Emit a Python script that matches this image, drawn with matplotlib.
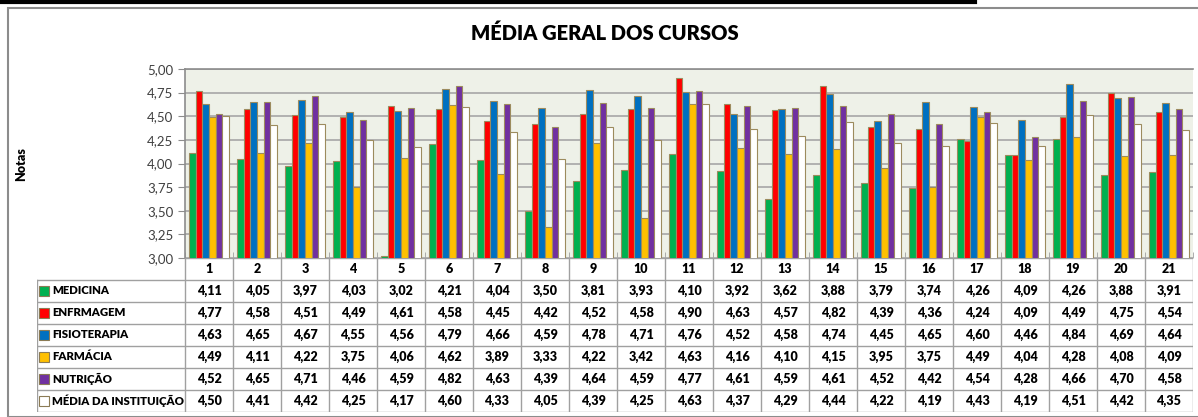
import numpy as np
import matplotlib
matplotlib.use("Agg")
from matplotlib import pyplot as plt
from matplotlib.lines import Line2D
from matplotlib.patches import Rectangle

plt.rcParams['font.family'] = ['Lato', 'DejaVu Sans']

cursos = ["MEDICINA", "ENFRMAGEM", "FISIOTERAPIA", "FARMÁCIA", "NUTRIÇÃO", "MÉDIA DA INSTITUIÇÃO"]
questoes = [str(i) for i in range(1, 22)]
medicina = [4.11, 4.05, 3.97, 4.03, 3.02, 4.21, 4.04, 3.50, 3.81, 3.93, 4.10, 3.92, 3.62, 3.88, 3.79, 3.74, 4.26, 4.09, 4.26, 3.88, 3.91]
enfermagem = [4.77, 4.58, 4.51, 4.49, 4.61, 4.58, 4.45, 4.42, 4.52, 4.58, 4.90, 4.63, 4.57, 4.82, 4.39, 4.36, 4.24, 4.09, 4.49, 4.75, 4.54]
fisioterapia = [4.63, 4.65, 4.67, 4.55, 4.56, 4.79, 4.66, 4.59, 4.78, 4.71, 4.76, 4.52, 4.58, 4.74, 4.45, 4.65, 4.60, 4.46, 4.84, 4.69, 4.64]
farmacia = [4.49, 4.11, 4.22, 3.75, 4.06, 4.62, 3.89, 3.33, 4.22, 3.42, 4.63, 4.16, 4.10, 4.15, 3.95, 3.75, 4.49, 4.04, 4.28, 4.08, 4.09]
nutricao = [4.52, 4.65, 4.71, 4.46, 4.59, 4.82, 4.63, 4.39, 4.64, 4.59, 4.77, 4.61, 4.59, 4.61, 4.52, 4.42, 4.54, 4.28, 4.66, 4.70, 4.58]
media_inst = [4.50, 4.41, 4.42, 4.25, 4.17, 4.60, 4.33, 4.05, 4.39, 4.25, 4.63, 4.37, 4.29, 4.44, 4.22, 4.19, 4.43, 4.19, 4.51, 4.42, 4.35]
series = [medicina, enfermagem, fisioterapia, farmacia, nutricao, media_inst]
cores = ["#00B050", "#FF0000", "#0070C0", "#FFC000", "#7030A0", "#FFFFFF"]

W, H = 1198, 417
fig = plt.figure(figsize=(W / 100, H / 100), dpi=100)

def box(l, t, r, b):
    return [l / W, 1 - b / H, (r - l) / W, (b - t) / H]

# chart frame + black line on top
fig.patches.append(Rectangle((8 / W, 0), (W - 6) / W, 1 - 8 / H, transform=fig.transFigure,
                             fill=False, edgecolor="#8C8C8C", linewidth=1.5))
fig.lines.append(Line2D([0, 975 / W], [1 - 1.5 / H, 1 - 1.5 / H], transform=fig.transFigure,
                        color="black", linewidth=3))

fig.text(605 / W, 1 - 33 / H, "MÉDIA GERAL DOS CURSOS", ha="center", va="center",
         fontsize=14.5, fontweight="heavy")
fig.text(21 / W, 1 - 164 / H, "Notas", rotation=90, ha="center", va="center",
         fontsize=9, fontweight="heavy")

# bars
ax = fig.add_axes(box(185, 69, 1193, 258))
ax.set_facecolor("#EEF1E8")
x = np.arange(len(questoes))
w = 0.14
for i, (vals, c) in enumerate(zip(series, cores)):
    ax.bar(x + (i - 2.5) * w, vals, width=w, color=c, edgecolor="#9C8B5E", linewidth=0.8, zorder=3)
ax.set_xlim(-0.5, len(questoes) - 0.5)
ax.set_ylim(3, 5)
ax.set_yticks(np.arange(3, 5.01, 0.25))
ax.set_yticklabels([f"{v:.2f}".replace(".", ",") for v in np.arange(3, 5.01, 0.25)], fontsize=9.5)
ax.yaxis.grid(True, color="#A6A6A6", linewidth=1.2, zorder=0)
ax.set_xticks([])
ax.set_xticks(np.arange(-0.5, len(questoes)), minor=True)
ax.tick_params(axis="x", which="minor", direction="in", length=4, color="#A0A0A0")
ax.tick_params(axis="y", length=5, color="#8C8C8C", colors="#404040")
for s in ["right", "bottom"]:
    ax.spines[s].set_visible(False)
for s in ["top", "left"]:
    ax.spines[s].set_color("#8C8C8C")
    ax.spines[s].set_linewidth(1.2)

# data table
tab = fig.add_axes(box(37, 258, 1193, 412))
lab_w = 148 / 48.0
x0 = -0.5 - lab_w
nrows = len(cursos) + 1
tab.set_xlim(x0, len(questoes) - 0.5)
tab.set_ylim(nrows, 0)
tab.axis("off")
lc, lw = "#A0A0A0", 1.0
tab.plot([-0.5, len(questoes) - 0.5], [0, 0], color=lc, lw=lw)
for r in range(1, nrows + 1):
    tab.plot([x0, len(questoes) - 0.5], [r, r], color=lc, lw=lw)
tab.plot([x0, x0], [1, nrows], color=lc, lw=lw)
for k in range(len(questoes) + 1):
    tab.plot([k - 0.5, k - 0.5], [0, nrows], color=lc, lw=lw)
for k, q in enumerate(questoes):
    tab.text(k, 0.5, q, ha="center", va="center", fontsize=9, fontweight="heavy")
for r, (nome, vals, c) in enumerate(zip(cursos, series, cores)):
    y = r + 1.5
    tab.plot([x0 + 0.15], [y], marker="s", markersize=7, color=c, markeredgecolor="#8B7B55", markeredgewidth=0.8)
    tab.text(x0 + 0.31, y, nome, ha="left", va="center", fontsize=8.2, fontweight="heavy")
    for k, v in enumerate(vals):
        tab.text(k, y, f"{v:.2f}".replace(".", ","), ha="center", va="center", fontsize=9, fontweight="heavy")

fig.savefig("out.png", dpi=100)
